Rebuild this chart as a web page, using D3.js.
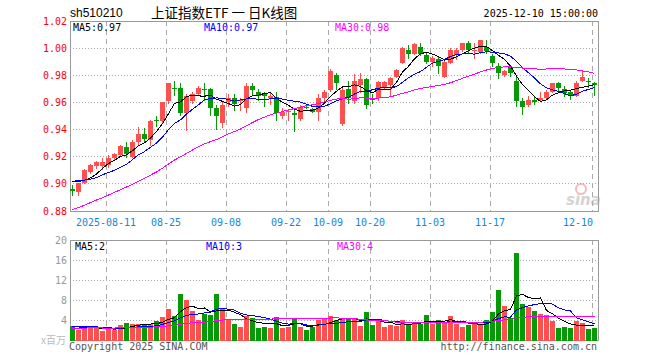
<!DOCTYPE html>
<html><head><meta charset="utf-8">
<script src="https://cdn.jsdelivr.net/npm/d3@7"></script>
<style>body{margin:0;background:#fff}svg{display:block}</style>
</head><body><svg id="c" width="660" height="360"></svg>
<script>
const dates = ["08-01","08-04","08-05","08-06","08-07","08-08","08-11","08-12","08-13","08-14","08-15","08-18","08-19","08-20","08-21","08-22","08-25","08-26","08-27","08-28","08-29",
"09-01","09-02","09-03","09-04","09-05","09-08","09-09","09-10","09-11","09-12","09-15","09-16","09-17","09-18","09-19","09-22","09-23","09-24","09-25","09-26","09-29","09-30",
"10-09","10-10","10-13","10-14","10-15","10-16","10-17","10-20","10-21","10-22","10-23","10-24","10-27","10-28","10-29","10-30","10-31",
"11-03","11-04","11-05","11-06","11-07","11-10","11-11","11-12","11-13","11-14","11-17","11-18","11-19","11-20","11-21","11-24","11-25","11-26","11-27","11-28",
"12-01","12-02","12-03","12-04","12-05","12-08","12-09","12-10"];
const open  = [0.896,0.894,0.901,0.909,0.913,0.913,0.914,0.919,0.921,0.927,0.920,0.931,0.937,0.932,0.947,0.946,0.961,0.971,0.971,0.952,0.961,
0.966,0.970,0.970,0.956,0.945,0.960,0.963,0.961,0.956,0.972,0.968,0.966,0.963,0.964,0.950,0.953,0.952,0.948,0.957,0.955,0.953,0.963,
0.969,0.980,0.944,0.970,0.961,0.973,0.977,0.963,0.963,0.971,0.973,0.979,0.989,0.999,0.996,1.001,0.995,
0.990,0.992,0.979,0.989,0.995,0.999,1.004,0.998,0.997,1.001,0.994,0.987,0.980,0.986,0.976,0.961,0.958,0.962,0.962,0.963,
0.968,0.974,0.970,0.968,0.965,0.976,0.976,0.974];
const high  = [0.899,0.901,0.911,0.915,0.917,0.919,0.921,0.923,0.929,0.931,0.932,0.942,0.941,0.947,0.950,0.960,0.974,0.976,0.974,0.966,0.968,
0.972,0.974,0.971,0.958,0.960,0.966,0.966,0.963,0.974,0.974,0.970,0.968,0.967,0.968,0.956,0.955,0.955,0.958,0.959,0.956,0.966,0.969,
0.985,0.982,0.971,0.976,0.981,0.982,0.978,0.966,0.976,0.976,0.979,0.985,1.001,1.002,1.004,1.004,0.997,
0.994,0.994,0.991,1.000,1.000,1.004,1.005,1.004,1.006,1.006,0.996,0.989,0.984,0.987,0.979,0.963,0.965,0.964,0.968,0.969,
0.974,0.975,0.972,0.969,0.976,0.983,0.978,0.975];
const low   = [0.891,0.891,0.900,0.907,0.911,0.910,0.912,0.917,0.920,0.919,0.919,0.929,0.931,0.928,0.942,0.945,0.959,0.965,0.950,0.939,0.959,
0.965,0.961,0.950,0.940,0.941,0.957,0.954,0.954,0.952,0.965,0.961,0.957,0.958,0.946,0.948,0.946,0.938,0.946,0.955,0.952,0.946,0.961,
0.968,0.969,0.943,0.959,0.959,0.967,0.955,0.959,0.961,0.970,0.965,0.978,0.988,0.992,0.995,0.994,0.988,
0.986,0.981,0.978,0.988,0.991,0.997,0.996,0.992,0.996,0.996,0.986,0.977,0.979,0.979,0.957,0.951,0.957,0.958,0.960,0.962,
0.967,0.967,0.964,0.962,0.964,0.975,0.971,0.965];
const close = [0.895,0.901,0.910,0.914,0.916,0.916,0.919,0.922,0.928,0.922,0.931,0.937,0.933,0.946,0.946,0.960,0.974,0.970,0.952,0.965,0.966,
0.971,0.969,0.956,0.950,0.958,0.963,0.959,0.962,0.972,0.969,0.965,0.965,0.965,0.952,0.953,0.954,0.951,0.957,0.956,0.953,0.963,0.968,
0.983,0.974,0.969,0.963,0.976,0.977,0.958,0.962,0.975,0.975,0.978,0.984,1.000,0.996,1.003,0.996,0.990,
0.993,0.987,0.990,0.999,0.999,1.004,0.999,0.999,1.006,0.998,0.989,0.982,0.983,0.982,0.961,0.957,0.962,0.960,0.963,0.968,
0.974,0.971,0.967,0.965,0.974,0.979,0.975,0.973];
const volume = [2.87,2.0,2.8,2.47,2.67,1.87,2.27,2.0,3.0,3.47,3.33,3.33,3.07,3.2,3.8,4.67,6.2,4.8,9.2,8.0,5.87,
4.0,5.33,5.0,9.2,6.33,4.33,3.2,2.67,4.93,4.47,2.47,2.67,2.47,4.67,2.47,2.6,4.33,2.7,2.0,2.67,4.0,4.4,
4.8,4.0,4.33,4.33,4.33,2.8,5.6,3.0,4.13,2.67,3.0,2.8,4.0,3.33,3.67,3.33,5.0,
3.33,4.0,3.67,4.8,3.2,2.67,3.0,3.47,3.33,4.0,5.6,10.0,6.8,4.53,17.47,7.2,6.67,5.8,5.2,5.0,
3.87,2.4,2.67,2.5,3.8,3.4,2.3,2.5];
// sessions before the visible window (estimated from where the MA lines start)
const preClose = [0.856,0.858,0.855,0.860,0.863,0.861,0.864,0.866,0.865,0.868,0.871,0.870,0.874,0.877,0.876,0.880,0.883,0.885,0.887,0.891,
0.898,0.905,0.908,0.904,0.895,0.902,0.906,0.905,0.902];
const preVolume = [2.1,2.4,2.0,2.6,2.2,2.5,1.9,2.3,2.8,2.1,2.4,2.2,2.0,2.7,2.3,2.5,2.1,2.4,2.6,2.0,
2.5,2.9,2.6,2.8,2.8,2.9,3.1,2.6,2.9];
const priceTicks = [0.88,0.90,0.92,0.94,0.96,0.98,1.00,1.02];
const volTicks = [0,4,8,12,16,20];
const tickDates = ["08-11","08-25","09-08","09-22","10-09","10-20","11-03","11-17","12-10"];
const tickLabels = ["2025-08-11","08-25","09-08","09-22","10-09","10-20","11-03","11-17","12-10"];
const maPeriods = [5,10,30];
const maColors = ["#000000","#0000ff","#ff00ff"];

const svg = d3.select("#c");
const L = 70, R = 598;
const x = d3.scaleBand().domain(d3.range(dates.length)).range([L, R]).padding(0);
const yP = d3.scaleLinear().domain([0.88, 1.02]).range([211, 21]);
const yV = d3.scaleLinear().domain([0, 20]).range([340.5, 240]);
const RED = "#ff5050", GREEN = "#079a07";
const mono = "'DejaVu Sans Mono','Liberation Mono',monospace";

function ma(arr, pre, n) {
  const all = pre.concat(arr);
  return arr.map((_, i) => {
    const j = i + pre.length;
    return d3.mean(all.slice(j - n + 1, j + 1));
  });
}
const cx = i => x(i) + 2.5;

// header
svg.append("text").attr("x", 70).attr("y", 17).attr("font-family", "'Liberation Sans',Arial,sans-serif")
  .attr("font-size", 12).attr("fill", "#000").text("sh510210");
svg.append("text").attr("x", 151).attr("y", 18).attr("font-family", "'Noto Sans CJK SC',sans-serif")
  .attr("font-size", 13.5).attr("fill", "#000").text("上证指数ETF 一 日K线图");
svg.append("text").attr("x", 598).attr("y", 17).attr("text-anchor", "end").attr("font-family", mono)
  .attr("font-size", 10).attr("fill", "#000").text("2025-12-10 15:00:00");

// grids
const g = svg.append("g").attr("shape-rendering", "crispEdges");
priceTicks.slice(1, -1).forEach(t => g.append("line").attr("x1", L).attr("x2", R).attr("y1", yP(t)).attr("y2", yP(t))
  .attr("stroke", "#aaa").attr("stroke-dasharray", "1,2"));
volTicks.slice(1, -1).forEach(t => g.append("line").attr("x1", L).attr("x2", R).attr("y1", yV(t)).attr("y2", yV(t))
  .attr("stroke", "#aaa").attr("stroke-dasharray", "1,2"));
tickDates.forEach(d => {
  const xi = x(dates.indexOf(d)) + 0.5;
  [[yP(1.02), yP(0.88)], [yV(20), yV(0)]].forEach(([a, b]) =>
    g.append("line").attr("x1", xi).attr("x2", xi).attr("y1", a).attr("y2", b)
      .attr("stroke", "#aaa").attr("stroke-dasharray", "5,4"));
});

// watermark
const wm = svg.append("g").attr("opacity", 0.55);
wm.append("circle").attr("cx", 581).attr("cy", 189).attr("r", 5).attr("fill", "none").attr("stroke", "#f08080").attr("stroke-width", 2);
wm.append("text").attr("x", 566).attr("y", 205).attr("font-family", "'DejaVu Sans',sans-serif").attr("font-style", "italic")
  .attr("font-weight", "bold").attr("font-size", 15).attr("fill", "#b0b0b0").text("sina");

// candles
const cg = svg.append("g").attr("shape-rendering", "crispEdges");
dates.forEach((d, i) => {
  const up = close[i] >= open[i];
  const col = up ? RED : GREEN;
  cg.append("line").attr("x1", cx(i)).attr("x2", cx(i)).attr("y1", yP(high[i])).attr("y2", yP(low[i])).attr("stroke", col);
  const top = yP(Math.max(open[i], close[i])), bot = yP(Math.min(open[i], close[i]));
  cg.append("rect").attr("x", x(i)).attr("y", top).attr("width", 5).attr("height", Math.max(1, bot - top)).attr("fill", col);
});
// volume bars
dates.forEach((d, i) => {
  const up = close[i] >= open[i];
  cg.append("rect").attr("x", x(i)).attr("y", yV(volume[i])).attr("width", 5).attr("height", yV(0) - yV(volume[i]))
    .attr("fill", up ? RED : GREEN);
});

// moving averages
const pMA = maPeriods.map(n => ma(close, preClose, n));
const vMA = maPeriods.map(n => ma(volume, preVolume, n));
maPeriods.forEach((n, k) => {
  svg.append("path").attr("d", d3.line().x((v, i) => cx(i)).y(v => yP(v))(pMA[k]))
    .attr("fill", "none").attr("stroke", maColors[k]).attr("stroke-width", 1).attr("shape-rendering", "crispEdges");
  svg.append("path").attr("d", d3.line().x((v, i) => cx(i)).y(v => yV(v))(vMA[k]))
    .attr("fill", "none").attr("stroke", maColors[k]).attr("stroke-width", 1).attr("shape-rendering", "crispEdges");
});

// frames
g.append("rect").attr("x", L + 0.5).attr("y", 21).attr("width", R - L).attr("height", 190).attr("fill", "none").attr("stroke", "#999");
g.append("rect").attr("x", L + 0.5).attr("y", 240).attr("width", R - L).attr("height", 100.5).attr("fill", "none").attr("stroke", "#999");
svg.selectAll("rect").filter(function(){return this.getAttribute("fill")==="none";}).raise();

// axis labels
priceTicks.forEach(t => svg.append("text").attr("x", 67).attr("y", yP(t) + 3.5).attr("text-anchor", "end")
  .attr("font-family", mono).attr("font-size", 10).attr("fill", "#ff0000").text(t.toFixed(2)));
volTicks.slice(1).forEach(t => svg.append("text").attr("x", 67).attr("y", yV(t) + 3.5).attr("text-anchor", "end")
  .attr("font-family", mono).attr("font-size", 10).attr("fill", "#999").text(t));
svg.append("text").attr("x", 66).attr("y", 344).attr("text-anchor", "end").attr("font-family", "'Noto Sans CJK SC',sans-serif")
  .attr("font-size", 10).attr("fill", "#bbb").text("x百万");
tickDates.forEach((d, k) => {
  const xi = x(dates.indexOf(d));
  const last = k === tickDates.length - 1;
  svg.append("text").attr("x", last ? xi + 1 : xi).attr("y", 225.5).attr("text-anchor", last ? "end" : "middle")
    .attr("font-family", mono).attr("font-size", 10).attr("fill", "#1a85d6").text(tickLabels[k]);
});

// legends
const lx = [73, 204, 335];
maPeriods.forEach((n, k) => {
  svg.append("text").attr("x", lx[k]).attr("y", 30.5).attr("font-family", mono).attr("font-size", 10)
    .attr("fill", maColors[k]).text("MA" + n + ":" + pMA[k][pMA[k].length - 1].toFixed(2));
  svg.append("text").attr("x", lx[k] + 2).attr("y", 249.5).attr("font-family", mono).attr("font-size", 10)
    .attr("fill", maColors[k]).text("MA" + n + ":" + Math.floor(vMA[k][vMA[k].length - 1]));
});

// footer
svg.append("text").attr("x", 69).attr("y", 349.5).attr("font-family", mono).attr("font-size", 10).attr("fill", "#555")
  .text("Copyright 2025 SINA.COM");
svg.append("text").attr("x", 597).attr("y", 349.5).attr("text-anchor", "end").attr("font-family", mono).attr("font-size", 10)
  .attr("fill", "#555").text("http://finance.sina.com.cn");
</script></body></html>
